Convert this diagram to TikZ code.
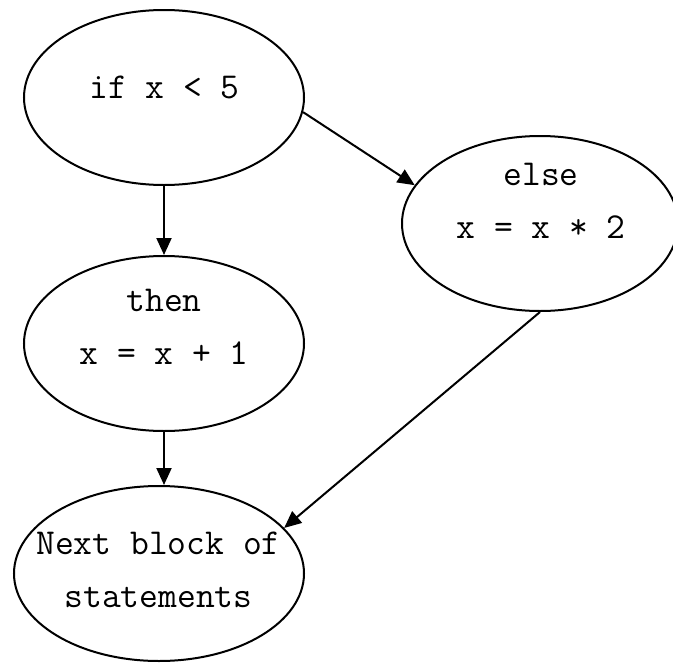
\documentclass[tikz,border=0pt]{standalone}
\usepackage{fontspec}
\usetikzlibrary{shapes.geometric,arrows.meta}
\begin{document}
\begin{tikzpicture}[x=1pt,y=-1pt,line width=2pt,>={Triangle[length=17pt,width=15pt]},
	blob/.style={draw,ellipse,minimum height=175pt,inner sep=0pt},
	txt/.style={font=\ttfamily\fontsize{36.5}{53}\selectfont,align=center,anchor=base}]
	\useasboundingbox (0,0) rectangle (673,664);
	\path
	(164,97.5) node[blob,minimum width=280pt] (I) {}    % if
	(540,223.5) node[blob,minimum width=276pt] (E) {}   % else
	(164,343.5) node[blob,minimum width=280pt] (T) {}   % then
	(159,573.5) node[blob,minimum width=290pt] (N) {}   % next
	(164.5,98) node[txt] (i) {if x < 5}
	(541,238) node[txt] (e) {else\\x = x * 2}
	(164,364) node[txt] (t) {then\\x = x + 1}
	(158.5,607) node[txt] (n) {Next block of\\statements}
	;
	\draw[->] (I.south)--(T.north);
	\draw[->] (T.south)--(T.south |- N.north);
	\draw[->] (I.-6)--(E.163);
	\draw[->] (E.south)--(N.20);
\end{tikzpicture}
\end{document}
